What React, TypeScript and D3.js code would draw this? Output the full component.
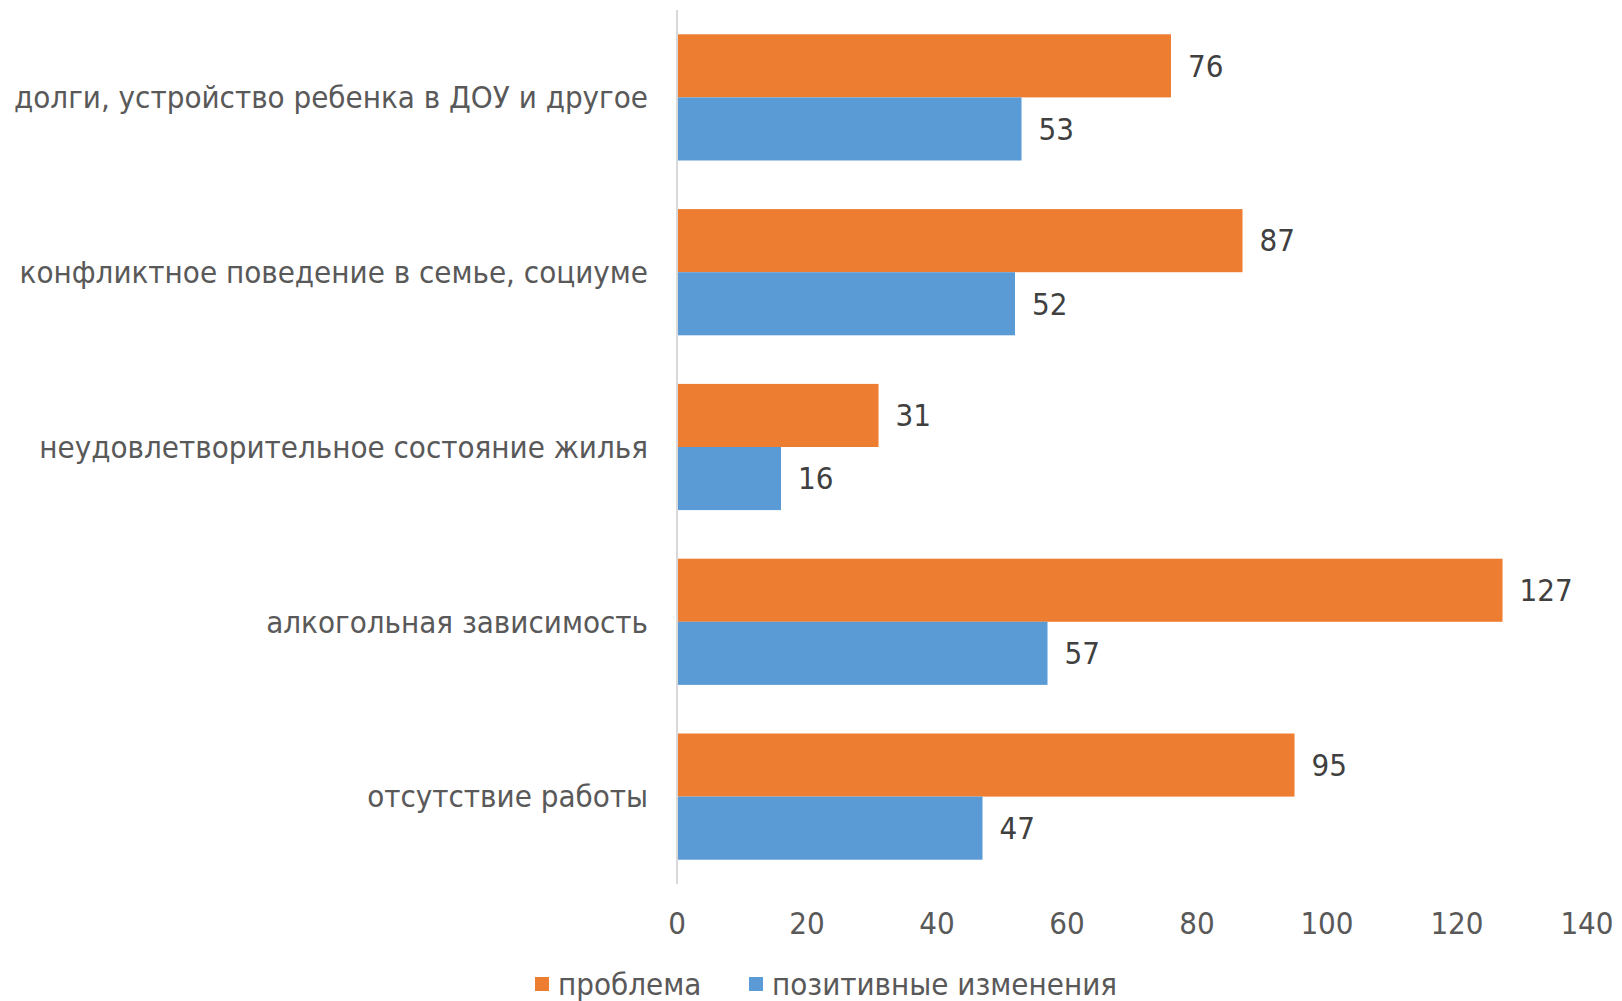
import React from "react";
import * as d3 from "d3";

const categories = [
  "долги, устройство ребенка в ДОУ и другое",
  "конфликтное поведение в семье, социуме",
  "неудовлетворительное состояние жилья",
  "алкогольная зависимость",
  "отсутствие работы",
];
const problemValues = [76, 87, 31, 127, 95];
const positiveValues = [53, 52, 16, 57, 47];
const seriesNames = ["проблема", "позитивные изменения"];
const xTicks = [0, 20, 40, 60, 80, 100, 120, 140];

const W = 1622;
const H = 1001;
const FONT = "'DejaVu Sans Condensed', 'DejaVu Sans', sans-serif";
const TEXT = "#595959";
const LABEL = "#404040";
const ORANGE = "#ED7D31";
const BLUE = "#5B9BD5";

export default function App() {
  const x = d3.scaleLinear().domain([0, 140]).range([677, 1587]);
  const y = d3
    .scaleBand<string>()
    .domain(categories)
    .range([10, 884])
    .paddingInner(0.278)
    .paddingOuter(0.139);
  const bw = y.bandwidth() / 2;
  const fs = 31;

  return (
    <svg width={W} height={H} style={{ position: "absolute", left: 0, top: 0 }} fontFamily={FONT}>
      <rect width={W} height={H} fill="#fff" />
      {categories.map((c, i) => {
        const y0 = y(c)!;
        return (
          <g key={c}>
            <rect x={x(0)} y={y0} width={x(problemValues[i]) - x(0)} height={bw} fill={ORANGE} />
            <rect x={x(0)} y={y0 + bw} width={x(positiveValues[i]) - x(0)} height={bw} fill={BLUE} />
            <text x={x(problemValues[i]) + 17} y={y0 + bw / 2} dy="0.35em" fontSize={fs} fill={LABEL}>
              {problemValues[i]}
            </text>
            <text x={x(positiveValues[i]) + 17} y={y0 + bw * 1.5} dy="0.35em" fontSize={fs} fill={LABEL}>
              {positiveValues[i]}
            </text>
            <text x={648} y={y0 + bw} dy="0.35em" textAnchor="end" fontSize={fs} fill={TEXT}>
              {c}
            </text>
          </g>
        );
      })}
      <line x1={x(0)} x2={x(0)} y1={10} y2={884} stroke="#D9D9D9" strokeWidth={2} />
      {xTicks.map((t) => (
        <text key={t} x={x(t)} y={923} dy="0.35em" textAnchor="middle" fontSize={fs} fill={TEXT}>
          {t}
        </text>
      ))}
      <g>
        <rect x={535} y={977} width={14} height={14} fill={ORANGE} />
        <text x={558} y={984} dy="0.35em" fontSize={fs} fill={TEXT}>
          {seriesNames[0]}
        </text>
        <rect x={749} y={977} width={14} height={14} fill={BLUE} />
        <text x={772} y={984} dy="0.35em" fontSize={fs} fill={TEXT}>
          {seriesNames[1]}
        </text>
      </g>
    </svg>
  );
}
